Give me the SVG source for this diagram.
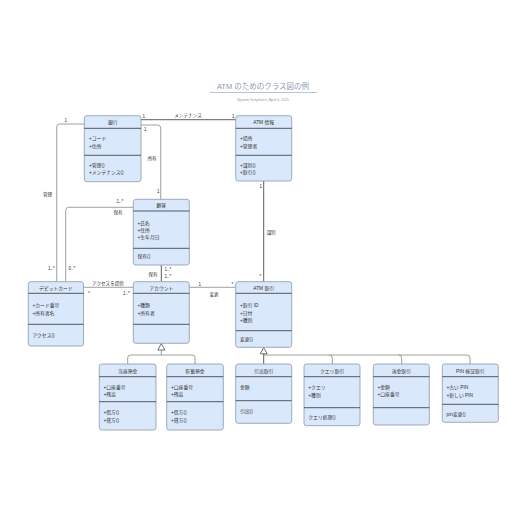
<svg xmlns="http://www.w3.org/2000/svg" width="516" height="516" viewBox="0 0 516 516">
<defs>
<style>
text{font-family:"Liberation Sans","Noto Sans CJK JP",sans-serif;fill:#333;font-size:4.8px}
.box{fill:#dae8fc;stroke:#8a98ab;stroke-width:0.8}
.div{stroke:#333;stroke-width:0.8}
.hd{text-anchor:middle}
.ln{fill:none;stroke:#333;stroke-width:0.8}
.lg{fill:none;stroke:#888;stroke-width:0.8}
.tri{fill:#fff;stroke:#333;stroke-width:0.7}
.lb{font-size:4.6px}
</style>
<marker id="open" markerWidth="8" markerHeight="8" refX="0.5" refY="4" orient="auto" markerUnits="userSpaceOnUse">
<path d="M6,1 L0.5,4 L6,7" fill="none" stroke="#888" stroke-width="0.7"/>
</marker>
</defs>
<rect width="516" height="516" fill="#fff"/>
<g id="title">
<text x="263" y="89" text-anchor="middle" style="font-size:7.5px;fill:#8c9ab0">ATM のためのクラス図の例</text>
<line x1="210" y1="92.5" x2="317" y2="92.5" stroke="#8c9ab0" stroke-width="0.6"/>
<text x="263" y="100.5" text-anchor="middle" style="font-size:3.6px;fill:#8c9ab0">System Templates  |  April 4, 2025</text>
</g>
<g id="connectors">
<line class="ln" x1="141" y1="119.7" x2="235.7" y2="119.7"/>
<path class="lg" d="M141,125 H157.7 Q160.7,125 160.7,128 V199.3"/>
<path class="lg" d="M84.3,124 H59.7 Q56.7,124 56.7,127 V281.7"/>
<path class="lg" d="M133.3,207.3 H68.7 Q65.7,207.3 65.7,210.3 V281.7"/>
<line class="ln" x1="161.3" y1="265" x2="161.3" y2="281.7"/>
<line class="lg" x1="83.5" y1="287.3" x2="133.3" y2="287.3"/>
<line class="lg" x1="235.7" y1="287.3" x2="189.5" y2="287.3" marker-end="url(#open)"/>
<line class="ln" x1="263.7" y1="181" x2="263.7" y2="281.7"/>
<path class="lg" d="M161.3,350 V355 M127.7,364 V358 Q127.7,355 130.7,355 H192 Q195,355 195,358 V364"/>
<path class="tri" d="M161.3,343.5 L157.8,350 L164.8,350 Z"/>
<line class="ln" x1="263.7" y1="353.5" x2="263.7" y2="364"/>
<path class="lg" d="M263.7,355 H467 Q470,355 470,358 V364 M329.3,355 Q332.3,355 332.3,358 V364 M398.7,355 Q401.7,355 401.7,358 V364"/>
<path class="tri" d="M263.7,347.5 L260.2,353.8 L267.2,353.8 Z"/>
<text class="lb" x="142.5" y="117.5">1</text>
<text class="lb" x="232" y="117.5">1</text>
<text class="lb" x="188" y="117" text-anchor="middle">メンテナンス</text>
<text class="lb" x="144" y="131">1</text>
<text class="lb" x="152" y="159.5" text-anchor="middle">所有</text>
<text class="lb" x="157" y="192.5">1</text>
<text class="lb" x="64.5" y="122">1</text>
<text class="lb" x="47.5" y="195.5" text-anchor="middle">管理</text>
<text class="lb" x="48" y="270">1..*</text>
<text class="lb" x="116.5" y="203">1..*</text>
<text class="lb" x="118" y="213.5" text-anchor="middle">保有</text>
<text class="lb" x="68.5" y="270">0..*</text>
<text class="lb" x="153" y="275.5" text-anchor="middle">保有</text>
<text class="lb" x="164.5" y="270.5">1..*</text>
<text class="lb" x="164.5" y="278">1..*</text>
<text class="lb" x="108" y="285" text-anchor="middle">アクセスを提供</text>
<text class="lb" x="88" y="295">*</text>
<text class="lb" x="123" y="294.5">1..*</text>
<text class="lb" x="198.5" y="285.5">1</text>
<text class="lb" x="231.5" y="285.5">*</text>
<text class="lb" x="214" y="295.5" text-anchor="middle">変更</text>
<text class="lb" x="259.5" y="188">1</text>
<text class="lb" x="266.5" y="234">識別</text>
<text class="lb" x="259.5" y="277.5">*</text>
</g>
<g id="bank">
<rect class="box" x="84.3" y="115.7" width="56.7" height="66" rx="2.5"/>
<line class="div" x1="84.3" y1="128.3" x2="141" y2="128.3"/>
<line class="div" x1="84.3" y1="155.3" x2="141" y2="155.3"/>
<text class="hd" x="112.7" y="124">銀行</text>
<text x="89" y="140">+コード</text>
<text x="89" y="147.5">+住所</text>
<text x="89" y="166.8">+管理()</text>
<text x="89" y="174.4">+メンテナンス()</text>
</g>
<g id="atm-info">
<rect class="box" x="235.7" y="115.7" width="56" height="65.3" rx="2.5"/>
<line class="div" x1="235.7" y1="128.3" x2="291.7" y2="128.3"/>
<line class="div" x1="235.7" y1="155.3" x2="291.7" y2="155.3"/>
<text class="hd" x="263.7" y="124">ATM 情報</text>
<text x="240" y="140">+場所</text>
<text x="240" y="147.5">+管理者</text>
<text x="240" y="166.8">+識別()</text>
<text x="240" y="174.4">+取引()</text>
</g>
<g id="customer">
<rect class="box" x="133.3" y="199.3" width="56" height="65.7" rx="2.5"/>
<line class="div" x1="133.3" y1="211" x2="189.3" y2="211"/>
<line class="div" x1="133.3" y1="248.3" x2="189.3" y2="248.3"/>
<text class="hd" x="161.3" y="207">顧客</text>
<text x="137.5" y="224.5">+氏名</text>
<text x="137.5" y="231.8">+住所</text>
<text x="137.5" y="239.3">+生年月日</text>
<text x="137.5" y="257.8">保有()</text>
</g>
<g id="debit-card">
<rect class="box" x="28.3" y="281.7" width="55.2" height="64.3" rx="2.5"/>
<line class="div" x1="28.3" y1="293.3" x2="83.5" y2="293.3"/>
<line class="div" x1="28.3" y1="324.3" x2="83.5" y2="324.3"/>
<text class="hd" x="55.9" y="289.5">デビットカード</text>
<text x="32.5" y="306.8">+カード番号</text>
<text x="32.5" y="314.5">+所有者名</text>
<text x="32.5" y="336.8">アクセス()</text>
</g>
<g id="account">
<rect class="box" x="133.3" y="281.7" width="56" height="61.6" rx="2.5"/>
<line class="div" x1="133.3" y1="293.3" x2="189.3" y2="293.3"/>
<line class="div" x1="133.3" y1="324.3" x2="189.3" y2="324.3"/>
<text class="hd" x="161.3" y="289.5">アカウント</text>
<text x="137.5" y="306.8">+種類</text>
<text x="137.5" y="314.5">+所有者</text>
</g>
<g id="atm-transaction">
<rect class="box" x="235.7" y="281.7" width="56" height="65.6" rx="2.5"/>
<line class="div" x1="235.7" y1="293.3" x2="291.7" y2="293.3"/>
<line class="div" x1="235.7" y1="330.7" x2="291.7" y2="330.7"/>
<text class="hd" x="263.7" y="289.5">ATM 取引</text>
<text x="240" y="306.8">+取引 ID</text>
<text x="240" y="314.5">+日付</text>
<text x="240" y="321.8">+種別</text>
<text x="240" y="340.8">変更()</text>
</g>
<g id="checking">
<rect class="box" x="99.3" y="364" width="56.7" height="66" rx="2.5"/>
<line class="div" x1="99.3" y1="376.7" x2="156" y2="376.7"/>
<line class="div" x1="99.3" y1="401.7" x2="156" y2="401.7"/>
<text class="hd" x="127.7" y="372.5">当座預金</text>
<text x="103.5" y="388.5">+口座番号</text>
<text x="103.5" y="395.8">+残高</text>
<text x="103.5" y="414">+借方()</text>
<text x="103.5" y="421.8">+貸方()</text>
</g>
<g id="savings">
<rect class="box" x="166.7" y="364" width="56.6" height="66" rx="2.5"/>
<line class="div" x1="166.7" y1="376.7" x2="223.3" y2="376.7"/>
<line class="div" x1="166.7" y1="401.7" x2="223.3" y2="401.7"/>
<text class="hd" x="195" y="372.5">貯蓄預金</text>
<text x="171" y="388.5">+口座番号</text>
<text x="171" y="395.8">+残高</text>
<text x="171" y="414">+借方()</text>
<text x="171" y="421.8">+貸方()</text>
</g>
<g id="withdrawal">
<rect class="box" x="235.7" y="364" width="56" height="59.3" rx="2.5"/>
<line class="div" x1="235.7" y1="376.7" x2="291.7" y2="376.7"/>
<line class="div" x1="235.7" y1="400.7" x2="291.7" y2="400.7"/>
<text class="hd" x="263.7" y="372.5">引出取引</text>
<text x="240" y="388.5">金額</text>
<text x="240" y="412.8">引出()</text>
</g>
<g id="query">
<rect class="box" x="304" y="364" width="56" height="61.7" rx="2.5"/>
<line class="div" x1="304" y1="376.7" x2="360" y2="376.7"/>
<line class="div" x1="304" y1="407.7" x2="360" y2="407.7"/>
<text class="hd" x="332" y="372.5">クエリ取引</text>
<text x="308.3" y="389">+クエリ</text>
<text x="308.3" y="396.5">+種別</text>
<text x="308.3" y="418.5">クエリ処理()</text>
</g>
<g id="transfer">
<rect class="box" x="373.3" y="364" width="56" height="61" rx="2.5"/>
<line class="div" x1="373.3" y1="376.7" x2="429.3" y2="376.7"/>
<line class="div" x1="373.3" y1="407.7" x2="429.3" y2="407.7"/>
<text class="hd" x="401.3" y="372.5">送金取引</text>
<text x="377.5" y="388.8">+金額</text>
<text x="377.5" y="396">+口座番号</text>
</g>
<g id="pin">
<rect class="box" x="442.3" y="364" width="56" height="58.3" rx="2.5"/>
<line class="div" x1="442.3" y1="376.7" x2="498.3" y2="376.7"/>
<line class="div" x1="442.3" y1="404.3" x2="498.3" y2="404.3"/>
<text class="hd" x="470.3" y="372.5">PIN 検証取引</text>
<text x="446.5" y="388.8">+古い PIN</text>
<text x="446.5" y="396.5">+新しい PIN</text>
<text x="446.5" y="415.8">pin変更()</text>
</g>
</svg>
